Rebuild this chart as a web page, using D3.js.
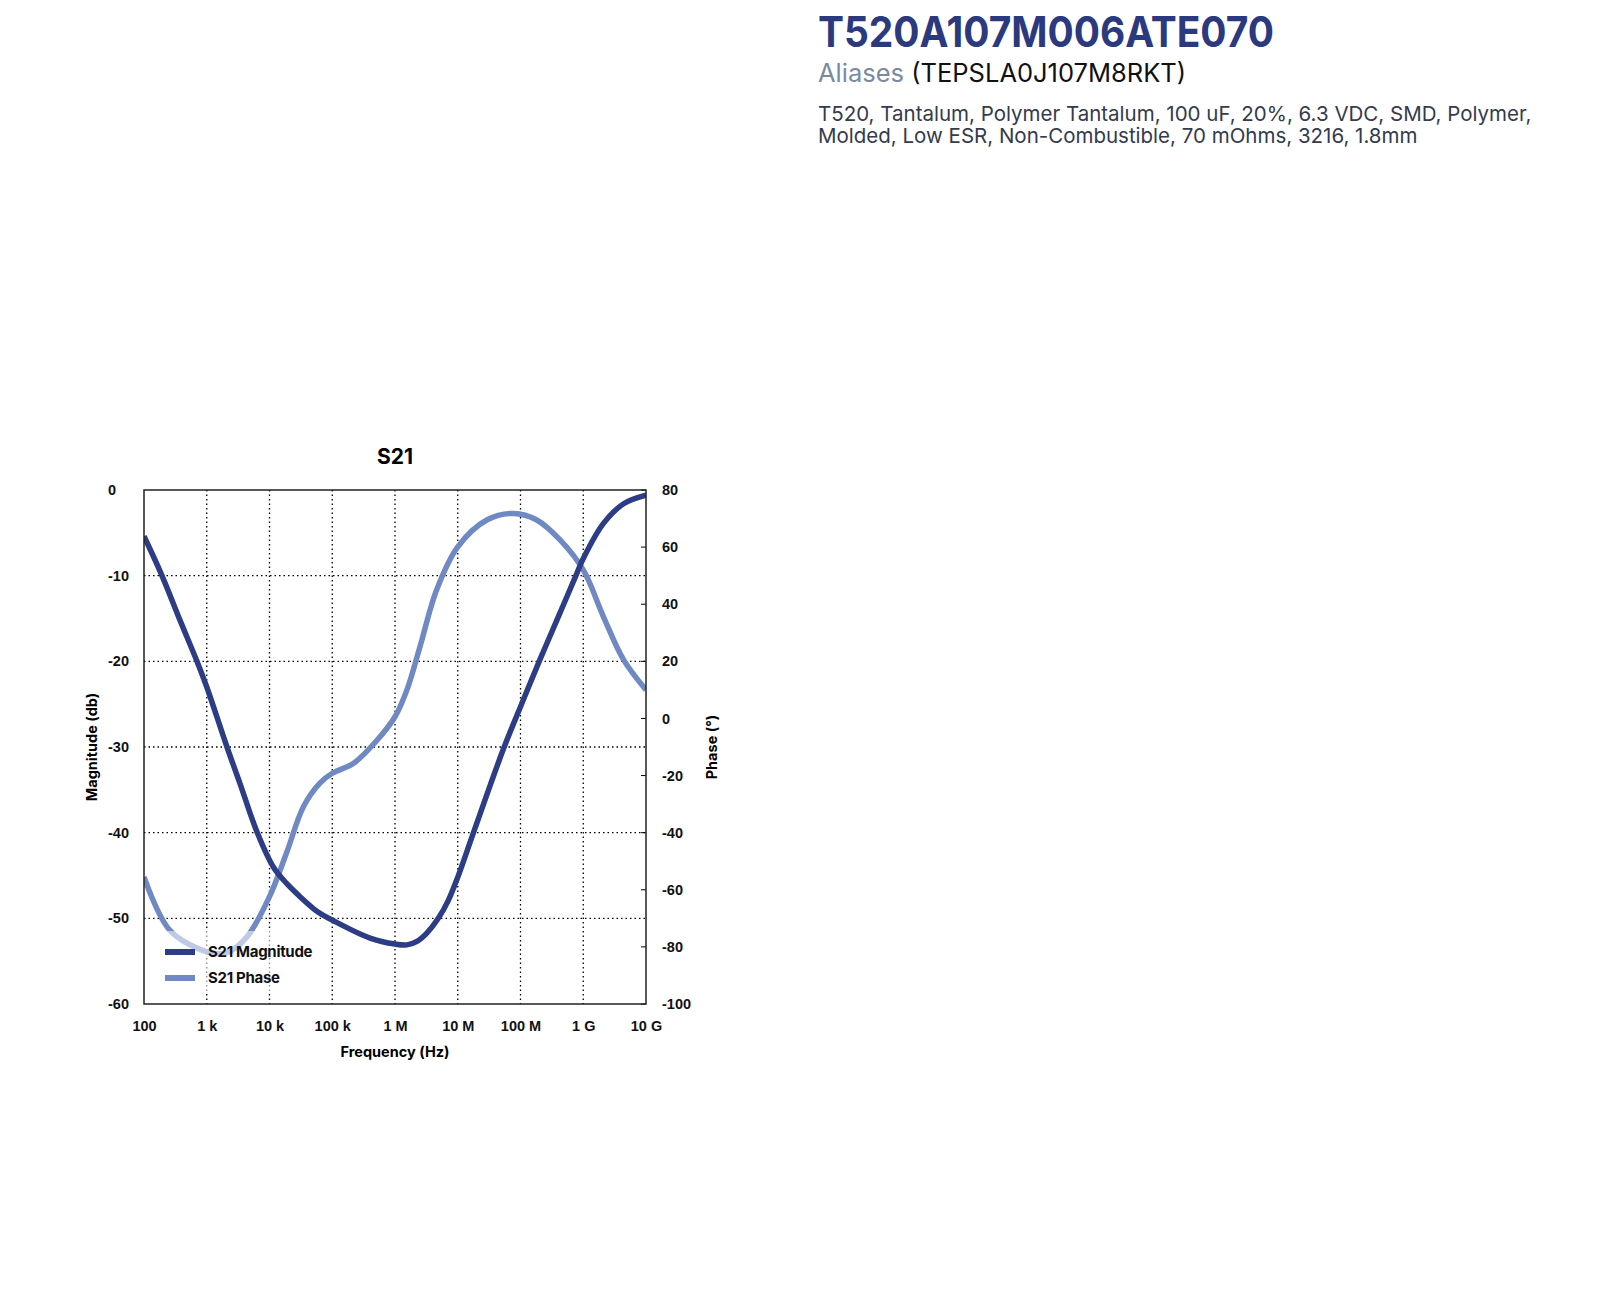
<!DOCTYPE html>
<html>
<head>
<meta charset="utf-8">
<script src="https://cdn.jsdelivr.net/npm/d3@7"></script>
<style>
  body { margin: 0; background: #fff; }
  svg { display: block; }
</style>
</head>
<body>
<svg id="chart"></svg>
<script>
// Header text
const partNumber = "T520A107M006ATE070";
const aliasLabel = "Aliases";
const aliasValue = "(TEPSLA0J107M8RKT)";
const descLines = [
    "T520, Tantalum, Polymer Tantalum, 100 uF, 20%, 6.3 VDC, SMD, Polymer,",
    "Molded, Low ESR, Non-Combustible, 70 mOhms, 3216, 1.8mm"
];

// Axis ticks
const freqTicks = [1e2, 1e3, 1e4, 1e5, 1e6, 1e7, 1e8, 1e9, 1e10];
const freqLabels = ["100", "1 k", "10 k", "100 k", "1 M", "10 M", "100 M", "1 G", "10 G"];
const magTicks = [0, -10, -20, -30, -40, -50, -60];
const phaseTicks = [80, 60, 40, 20, 0, -20, -40, -60, -80, -100];

// S21 magnitude (dB)
const magFreq = [1e2, 1.91e2, 3.7e2, 6.9e2, 1e3, 2.1e3, 3.4e3, 6.3e3, 1.15e4, 1.86e4, 3.1e4, 6e4, 1e5, 4e5, 1e6, 1.55e6, 2.24e6, 3.24e6, 4.9e6, 7.08e6, 1e7, 1.78e7, 5.3e7, 1e8, 2.04e8, 3.8e8, 7.94e8, 1e9, 2.1e9, 4.4e9, 1e10];
const magDb = [-5.4, -9.9, -15.1, -19.9, -23.0, -30, -34.3, -39.9, -44, -45.9, -47.5, -49.3, -50.2, -52.3, -53.0, -53.1, -52.7, -51.7, -50.0, -47.9, -45.2, -40.0, -30.3, -25.3, -19.8, -15.2, -9.7, -8, -3.9, -1.6, -0.6];

// S21 phase (deg)
const phaseFreq = [1e2, 2.57e2, 1e3, 2.1e3, 4.4e3, 1e4, 1.86e4, 3.47e4, 6.3e4, 1e5, 2.19e5, 5e5, 1e6, 1.55e6, 2.5e6, 4.6e6, 1e7, 2.9e7, 7.8e7, 1.82e8, 4.27e8, 1e9, 2.1e9, 4.4e9, 1e10];
const phaseDeg = [-55.5, -74.1, -81.7, -82, -76.4, -62.4, -47.2, -30.9, -22.7, -19.2, -15.7, -8, 0.6, 10, 25.1, 45, 60.1, 69.5, 71.8, 69.5, 62.5, 52, 35.6, 20.5, 10];

const seriesNames = ["S21 Magnitude", "S21 Phase"];
const seriesColors = ["#2c3d85", "#7089c3"];

const W = 1600, H = 1304;
const plot = { left: 144, right: 646, top: 490, bottom: 1004 };
const tickFont = "'Liberation Sans', Arial, sans-serif";
const labelFont = "Inter, 'Open Sans', sans-serif";

const svg = d3.select("#chart").attr("width", W).attr("height", H);

// ---- header ----
const header = svg.append("g").attr("font-family", labelFont);
header.append("text")
    .attr("x", 818).attr("y", 47)
    .attr("font-size", 43).attr("font-weight", 700)
    .attr("fill", "#2b3a7e")
    .attr("textLength", 456).attr("lengthAdjust", "spacingAndGlyphs")
    .text(partNumber);

const alias = header.append("text")
    .attr("x", 818).attr("y", 82)
    .attr("font-size", 25.5);
alias.append("tspan").attr("fill", "#7b8aa1").text(aliasLabel + " ");
alias.append("tspan").attr("fill", "#111").text(aliasValue);

header.selectAll(".desc")
    .data(descLines)
    .join("text")
    .attr("class", "desc")
    .attr("x", 818)
    .attr("y", (d, i) => 121 + i * 22)
    .attr("font-size", 20.5)
    .attr("fill", "#333b4d")
    .text(d => d);

// ---- scales ----
const x = d3.scaleLog().domain([1e2, 1e10]).range([plot.left, plot.right]);
const yMag = d3.scaleLinear().domain([-60, 0]).range([plot.bottom, plot.top]);
const yPh = d3.scaleLinear().domain([-100, 80]).range([plot.bottom, plot.top]);

const chart = svg.append("g");

// title
chart.append("text")
    .attr("x", (plot.left + plot.right) / 2).attr("y", 464)
    .attr("text-anchor", "middle")
    .attr("font-family", labelFont)
    .attr("font-size", 21).attr("font-weight", 700)
    .text("S21");

// grid
chart.append("g")
    .selectAll("line")
    .data(freqTicks.slice(1, -1))
    .join("line")
    .attr("x1", d => x(d)).attr("x2", d => x(d))
    .attr("y1", plot.top).attr("y2", plot.bottom)
    .attr("stroke", "#000").attr("stroke-width", 1.3)
    .attr("stroke-dasharray", "1.5,3");

chart.append("g")
    .selectAll("line")
    .data(magTicks.slice(1, -1))
    .join("line")
    .attr("x1", plot.left).attr("x2", plot.right)
    .attr("y1", d => yMag(d)).attr("y2", d => yMag(d))
    .attr("stroke", "#000").attr("stroke-width", 1.3)
    .attr("stroke-dasharray", "1.5,3");

// right axis small ticks
chart.append("g")
    .selectAll("line")
    .data(phaseTicks)
    .join("line")
    .attr("x1", plot.right - 5).attr("x2", plot.right)
    .attr("y1", d => yPh(d)).attr("y2", d => yPh(d))
    .attr("stroke", "#000").attr("stroke-width", 1);

// lines
svg.append("clipPath").attr("id", "plotClip")
    .append("rect")
    .attr("x", plot.left).attr("y", plot.top)
    .attr("width", plot.right - plot.left).attr("height", plot.bottom - plot.top);

const magLine = d3.line()
    .x((d, i) => x(magFreq[i]))
    .y(d => yMag(d))
    .curve(d3.curveCatmullRom.alpha(0.5));

const phLine = d3.line()
    .x((d, i) => x(phaseFreq[i]))
    .y(d => yPh(d))
    .curve(d3.curveCatmullRom.alpha(0.5));

const lines = chart.append("g").attr("clip-path", "url(#plotClip)");
lines.append("path")
    .attr("d", phLine(phaseDeg))
    .attr("fill", "none")
    .attr("stroke", seriesColors[1])
    .attr("stroke-width", 5.5);
lines.append("path")
    .attr("d", magLine(magDb))
    .attr("fill", "none")
    .attr("stroke", seriesColors[0])
    .attr("stroke-width", 5.5);

// plot border
chart.append("rect")
    .attr("x", plot.left).attr("y", plot.top)
    .attr("width", plot.right - plot.left).attr("height", plot.bottom - plot.top)
    .attr("fill", "none").attr("stroke", "#222").attr("stroke-width", 1.5);

// legend
const legend = chart.append("g");
legend.append("rect")
    .attr("x", 160).attr("y", 931)
    .attr("width", 165).attr("height", 62)
    .attr("fill", "#fff").attr("fill-opacity", 0.55);
const legendItems = legend.selectAll(".item")
    .data(seriesNames)
    .join("g")
    .attr("class", "item")
    .attr("transform", (d, i) => `translate(165, ${952 + i * 26})`);
legendItems.append("line")
    .attr("x1", 0).attr("x2", 30)
    .attr("stroke", (d, i) => seriesColors[i])
    .attr("stroke-width", 6);
legendItems.append("text")
    .attr("x", 43).attr("y", 5)
    .attr("font-family", labelFont)
    .attr("font-size", 15).attr("font-weight", 700)
    .attr("letter-spacing", -0.3)
    .attr("fill", "#111")
    .text(d => d);

// axes labels
const xAxis = d3.axisBottom(x)
    .tickValues(freqTicks)
    .tickFormat((d, i) => freqLabels[i])
    .tickSize(0).tickPadding(17);
const gx = chart.append("g")
    .attr("transform", `translate(0, ${plot.bottom})`)
    .call(xAxis);
gx.select(".domain").remove();
gx.selectAll("text")
    .attr("font-family", tickFont).attr("font-size", 14.5)
    .attr("font-weight", 700).attr("fill", "#111");

const yAxisL = d3.axisLeft(yMag)
    .tickValues(magTicks)
    .tickFormat(d => String(d))
    .tickSize(0).tickPadding(36);
const gyl = chart.append("g")
    .attr("transform", `translate(${plot.left}, 0)`)
    .call(yAxisL);
gyl.select(".domain").remove();
gyl.selectAll("text")
    .attr("text-anchor", "start")
    .attr("font-family", tickFont).attr("font-size", 14.5)
    .attr("font-weight", 700).attr("fill", "#111");

const yAxisR = d3.axisRight(yPh)
    .tickValues(phaseTicks)
    .tickFormat(d => String(d))
    .tickSize(0).tickPadding(16);
const gyr = chart.append("g")
    .attr("transform", `translate(${plot.right}, 0)`)
    .call(yAxisR);
gyr.select(".domain").remove();
gyr.selectAll("text")
    .attr("font-family", tickFont).attr("font-size", 14.5)
    .attr("font-weight", 700).attr("fill", "#111");

chart.append("text")
    .attr("x", (plot.left + plot.right) / 2).attr("y", 1057)
    .attr("text-anchor", "middle")
    .attr("font-family", labelFont)
    .attr("font-size", 14.5).attr("font-weight", 700)
    .text("Frequency (Hz)");

chart.append("text")
    .attr("transform", `translate(97, ${(plot.top + plot.bottom) / 2}) rotate(-90)`)
    .attr("text-anchor", "middle")
    .attr("font-family", labelFont)
    .attr("font-size", 14.5).attr("font-weight", 700)
    .text("Magnitude (db)");

chart.append("text")
    .attr("transform", `translate(717, ${(plot.top + plot.bottom) / 2}) rotate(-90)`)
    .attr("text-anchor", "middle")
    .attr("font-family", labelFont)
    .attr("font-size", 14.5).attr("font-weight", 700)
    .text("Phase (°)");
</script>
</body>
</html>
